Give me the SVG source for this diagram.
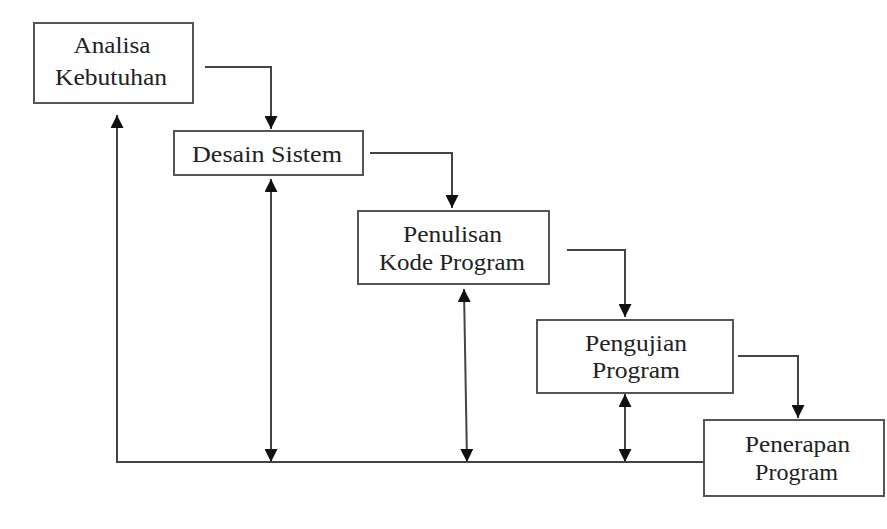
<svg xmlns="http://www.w3.org/2000/svg" width="887" height="529" viewBox="0 0 887 529">
<style>
.box{fill:#fff;stroke:#555;stroke-width:2}
.lbl{font-family:'Liberation Serif','Times New Roman','DejaVu Serif',serif;font-size:24px;fill:#222;text-anchor:middle}
.con{fill:none;stroke:#444;stroke-width:2}
</style>
<defs>
<marker id="ah" viewBox="0 0 12 12" refX="12" refY="6" markerWidth="13" markerHeight="13" markerUnits="userSpaceOnUse" orient="auto-start-reverse">
<path d="M0,0 L12,6 L0,12 z" fill="#111"/>
</marker>
</defs>
<rect width="887" height="529" fill="#fff"/>
<g id="connectors">
<path class="con" d="M205,67 H271 V129" marker-end="url(#ah)"/>
<path class="con" d="M370,153 H452 V208" marker-end="url(#ah)"/>
<path class="con" d="M567,250 H625 V317" marker-end="url(#ah)"/>
<path class="con" d="M738,356 H798 V418" marker-end="url(#ah)"/>
<path class="con" d="M704,462 H117 V115" marker-end="url(#ah)"/>
<path class="con" d="M271,179 V462" marker-start="url(#ah)" marker-end="url(#ah)"/>
<path class="con" d="M464,289 L467,462" marker-start="url(#ah)" marker-end="url(#ah)"/>
<path class="con" d="M625,394 V462" marker-start="url(#ah)" marker-end="url(#ah)"/>
</g>
<g id="analisa">
<rect class="box" x="34" y="23" width="159" height="80"/>
<text class="lbl" font-family="Liberation Serif, serif" x="112" y="53" textLength="77" lengthAdjust="spacingAndGlyphs">Analisa</text>
<text class="lbl" font-family="Liberation Serif, serif" x="111" y="85" textLength="112" lengthAdjust="spacingAndGlyphs">Kebutuhan</text>
</g>
<g id="desain">
<rect class="box" x="174" y="131" width="189" height="44"/>
<text class="lbl" font-family="Liberation Serif, serif" x="267" y="162" textLength="150" lengthAdjust="spacingAndGlyphs">Desain Sistem</text>
</g>
<g id="penulisan">
<rect class="box" x="358" y="211" width="191" height="73"/>
<text class="lbl" font-family="Liberation Serif, serif" x="452.5" y="242" textLength="99" lengthAdjust="spacingAndGlyphs">Penulisan</text>
<text class="lbl" font-family="Liberation Serif, serif" x="452" y="270" textLength="146" lengthAdjust="spacingAndGlyphs">Kode Program</text>
</g>
<g id="pengujian">
<rect class="box" x="537" y="320" width="196" height="73"/>
<text class="lbl" font-family="Liberation Serif, serif" x="636" y="351" textLength="102" lengthAdjust="spacingAndGlyphs">Pengujian</text>
<text class="lbl" font-family="Liberation Serif, serif" x="636" y="378" textLength="88" lengthAdjust="spacingAndGlyphs">Program</text>
</g>
<g id="penerapan">
<rect class="box" x="704" y="420" width="180" height="76"/>
<text class="lbl" font-family="Liberation Serif, serif" x="797.5" y="452" textLength="105" lengthAdjust="spacingAndGlyphs">Penerapan</text>
<text class="lbl" font-family="Liberation Serif, serif" x="796.5" y="480" textLength="83" lengthAdjust="spacingAndGlyphs">Program</text>
</g>
</svg>
